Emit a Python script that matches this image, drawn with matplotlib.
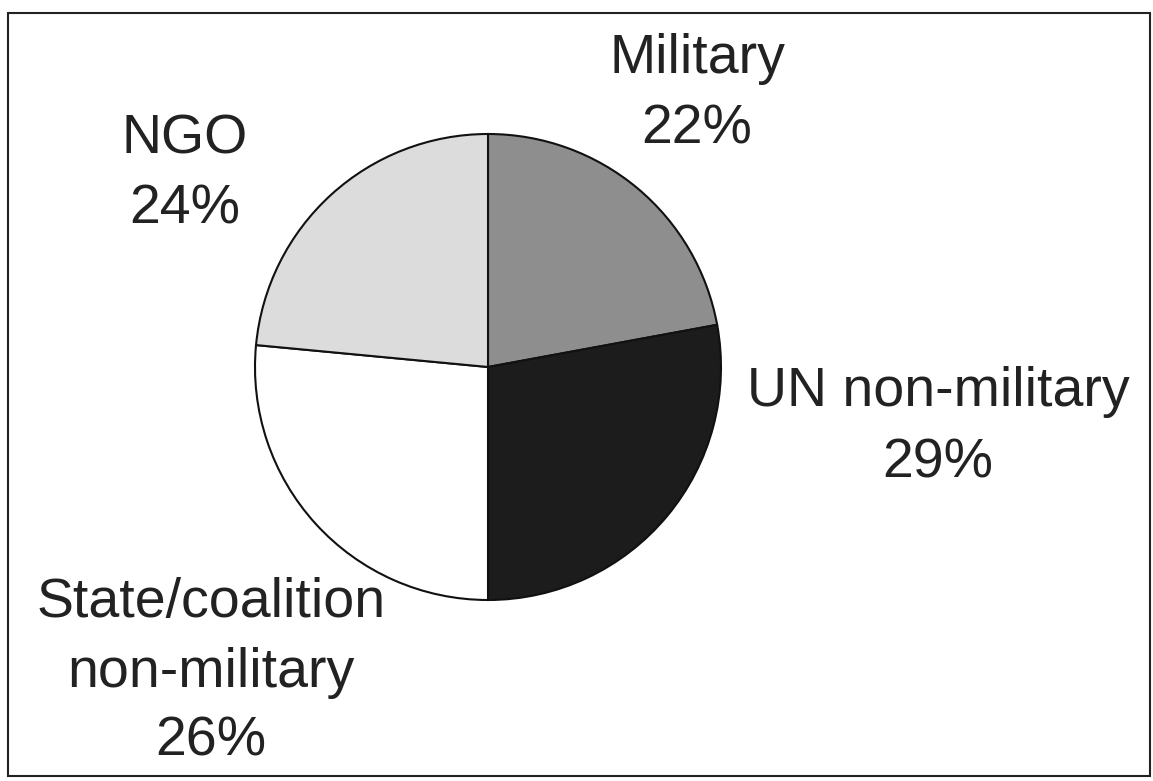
import matplotlib.pyplot as plt
from matplotlib.patches import Rectangle

# -------------------------
# Data
# -------------------------
labels = ['Military', 'UN non-military', 'State/coalition\nnon-military', 'NGO']
# wedge sizes as drawn in the picture (printed labels are rounded differently)
shares = [22.1, 27.9, 26.5, 23.5]
pct_text = ['22%', '29%', '26%', '24%']
colors = ['#8e8e8e', '#1c1c1c', '#ffffff', '#dcdcdc']

plt.rcParams['font.family'] = ['Liberation Sans', 'DejaVu Sans']

W, H = 1153, 781
fig = plt.figure(figsize=(W / 100, H / 100), dpi=100)
ax = fig.add_axes([0, 0, 1, 1])

# pie, clockwise from 12 o'clock
cx, cy, r = 488, H - 367, 233
ax.pie(
    shares,
    colors=colors,
    startangle=90,
    counterclock=False,
    center=(cx, cy),
    radius=r,
    wedgeprops=dict(edgecolor='#111111', linewidth=1.5),
    frame=True,
)
ax.set_xlim(0, W)
ax.set_ylim(0, H)
ax.set_aspect('equal')
ax.axis('off')

# -------------------------
# Labels (line by line, baseline positions from the top)
# -------------------------
label_pos = {
    'Military': (697, [73, 143]),
    'UN non-military': (938, [406, 477]),
    'State/coalition\nnon-military': (211, [617, 687, 756]),
    'NGO': (185, [153, 223]),
}
for lab, pct in zip(labels, pct_text):
    x, ys = label_pos[lab]
    lines = lab.split('\n') + [pct]
    for line, y in zip(lines, ys):
        ax.text(x, H - y, line, ha='center', va='baseline',
                fontsize=40, color='#222222')

# outer frame
fig.patches.append(Rectangle((8 / W, 1 - 776 / H), 1142 / W, 763 / H,
                             transform=fig.transFigure, fill=False,
                             edgecolor='#222222', linewidth=1.5))

fig.savefig('out.png', dpi=100)
